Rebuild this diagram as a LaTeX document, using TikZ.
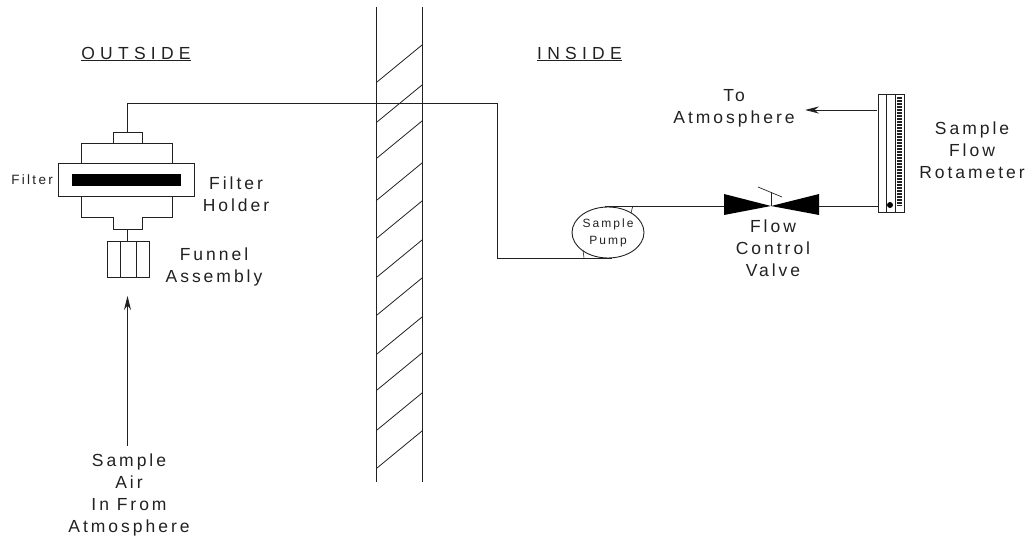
\documentclass[tikz,border=0pt]{standalone}
\usepackage{fontspec}
\setmainfont{Liberation Sans}
\newfontfamily\spaced[LetterSpace=17]{Liberation Sans}
\newfontfamily\widespaced[LetterSpace=30]{Liberation Sans}
\usetikzlibrary{arrows.meta,shapes.geometric}
\definecolor{ink}{gray}{0.13}
\tikzset{
  pipe/.style={draw=ink,line width=0.9pt},
  wallline/.style={draw=ink,line width=1pt},
  hatch/.style={draw=ink,line width=0.8pt},
  part/.style={draw=ink,line width=0.9pt,fill=white},
  flow/.style={draw=ink,line width=0.9pt,-{Stealth[length=14pt,width=7pt]}},
  lbl/.style={font=\spaced\fontsize{17.5}{22}\selectfont,align=center,inner sep=0pt,text=ink},
  headlbl/.style={font=\widespaced\fontsize{17.5}{22}\selectfont,align=center,inner sep=0pt,text=ink},
  smalllbl/.style={font=\spaced\fontsize{13.5}{17}\selectfont,align=center,inner sep=0pt,text=ink},
}
\begin{document}
\begin{tikzpicture}[x=1pt,y=-1pt]
\useasboundingbox (0,0) rectangle (1030,537);
% wall
\coordinate (wallTL) at (376.5,7); \coordinate (wallBL) at (376.5,482);
\coordinate (wallTR) at (422,7); \coordinate (wallBR) at (422,482);
\draw[wallline] (wallTL) -- (wallBL);
\draw[wallline] (wallTR) -- (wallBR);
\foreach \yl in {82,122,158,200,238,277,315,354,390,430,468}
  \draw[hatch] (377,\yl) -- (422,\yl-37);
% parts
\draw[part] (81,163) |- (172,143) -- (172,163);
\draw[part] (81,196) |- (172,217) -- (172,196);
\draw[part] (58,163) rectangle (194,196);
\fill[black] (72,174) rectangle (181,186);
\coordinate (capTop) at (127.5,132);
\coordinate (capBot) at (127.5,229);
\draw[part] (113,143) |- (142,132) -- (142,143);
\draw[part] (113,217) |- (142,229) -- (142,217);
\draw[part] (107,241) rectangle (149,277);
\draw[pipe] (120,241) -- (120,277);
\draw[pipe] (136,241) -- (136,277);
\coordinate (funnelTop) at (127.5,241);
\draw[pipe] (capBot) -- (funnelTop);
% pump
\node[draw=ink,line width=0.9pt,ellipse,minimum width=70pt,minimum height=51pt,inner sep=0pt,
      font=\spaced\fontsize{12}{17}\selectfont,align=center,text=ink] (pump) at (608,232.5) {Sample\\Pump};
\coordinate (pipeA) at (497,103.5);
\coordinate (pipeB) at (497,258);
\coordinate (pumpBot) at (612,258);
\draw[pipe] (capTop) |- (pipeA) -- (pipeB) -- (pumpBot);
\draw[pipe,line width=0.6pt] (584,258) -- (583,250);
\coordinate (pumpTop) at (605,206.5);
% valve
\coordinate (valveC) at (771,206);
\fill[black] (724,194) -- (valveC) -- (819,194) -- (819,215) -- (valveC) -- (724,215) -- cycle;
\coordinate (stemTop) at (771,192);
\draw[pipe,line width=0.7pt] (valveC) -- (stemTop);
\draw[pipe,line width=0.7pt] (758,187) -- (782,197);
\draw[pipe] (pumpTop) -- (724,206.5);
\draw[pipe,line width=0.6pt] (632.7,206.5) -- (631,213);
% rotameter
\draw[part] (878,94) rectangle (904,212);
\draw[pipe] (886,94) -- (886,212);
\draw[pipe] (895,94) -- (895,212);
\fill[black] (890,205) circle (3pt);
\foreach \y in {97,98.5,...,205} \draw[ink,line width=0.5pt] (897,\y) -- (902,\y);
\draw[pipe] (819,206.5) -- (878,206.5);
\coordinate (rotaOut) at (877,110);
\coordinate (atmos) at (805,110);
\draw[flow] (rotaOut) -- (atmos);
% inlet
\coordinate (inletS) at (127.5,446);
\coordinate (inletE) at (127.5,296);
\draw[flow] (inletS) -- (inletE);
% labels
\node[headlbl] (outside) at (136,54) {\underline{OUTSIDE}};
\node[headlbl] (inside) at (579.5,54) {\underline{INSIDE}};
\node[smalllbl,anchor=east] (filter) at (53,180) {Filter};
\node[lbl] (holder) at (236,194) {Filter\\Holder};
\node[lbl] (funnel) at (214,267) {Funnel\\Assembly};
\node[lbl] (air) at (129,495) {Sample\\Air\\In From\\Atmosphere};
\node[lbl] (to) at (734,108) {To\\Atmosphere};
\node[lbl] (rota) at (972,150) {Sample\\Flow\\Rotameter};
\node[lbl] (valve) at (773,248) {Flow\\Control\\Valve};
\end{tikzpicture}
\end{document}
